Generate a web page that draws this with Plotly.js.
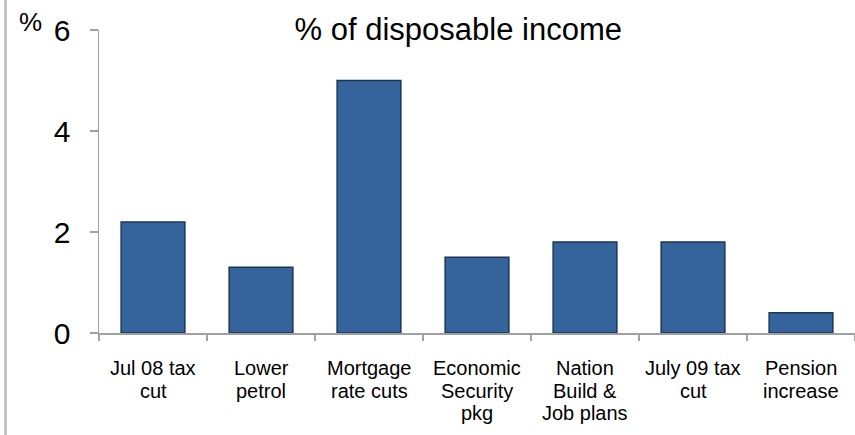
<!DOCTYPE html>
<html>
<head>
<meta charset="utf-8">
<script src="https://cdn.plot.ly/plotly-3.0.1.min.js"></script>
<style>
  html, body { margin: 0; padding: 0; background: #fff; }
  #wrap { position: relative; width: 855px; height: 435px; overflow: hidden; }
  #edge { position: absolute; left: 4px; top: 0; width: 3px; height: 435px; background: #c4c4c4; z-index: 5; }
  #chart { position: absolute; left: 0; top: 0; width: 855px; height: 435px; }
</style>
</head>
<body>
<div id="wrap"><div id="edge"></div><div id="chart"></div></div>
<script>
const categories = [
  "Jul 08 tax<br>cut",
  "Lower<br>petrol",
  "Mortgage<br>rate cuts",
  "Economic<br>Security<br>pkg",
  "Nation<br>Build &<br>Job plans",
  "July 09 tax<br>cut",
  "Pension<br>increase"
];
const values = [2.2, 1.3, 5.0, 1.5, 1.8, 1.8, 0.4];
const yTicks = [0, 2, 4, 6];

const font = "Liberation Sans, Arial, sans-serif";

const trace = {
  type: "bar",
  x: categories,
  y: values,
  width: 0.59,
  marker: { color: "#34649b", line: { color: "#1a3656", width: 1.5 } },
  hoverinfo: "skip"
};

// category labels as line-by-line annotations (tight line spacing like the original)
const labelAnns = [];
categories.forEach(function (c) {
  c.split("<br>").forEach(function (line, i) {
    labelAnns.push({
      text: line, xref: "x", yref: "paper", x: c, y: 0,
      xanchor: "center", yanchor: "middle", yshift: -(35 + i * 22.5),
      showarrow: false, font: { family: font, size: 20, color: "#000" }
    });
  });
});

const layout = {
  width: 855, height: 435,
  margin: { l: 99, r: 0, t: 30, b: 102 },
  paper_bgcolor: "rgba(0,0,0,0)",
  plot_bgcolor: "#fff",
  showlegend: false,
  title: { text: "% of disposable income", font: { family: font, size: 31, color: "#000" },
           x: 0.536, xanchor: "center", y: 0.933, yanchor: "middle", yref: "container" },
  xaxis: {
    type: "category",
    showline: true, linecolor: "#a0a0a0", linewidth: 1.5,
    ticks: "outside", tickson: "boundaries", ticklen: 6, tickcolor: "#a0a0a0", tickwidth: 1.5,
    showticklabels: false,
    showgrid: false, zeroline: false, range: [-0.5, 6.5]
  },
  yaxis: {
    range: [0, 6], tickvals: yTicks, ticktext: yTicks.map(String),
    showline: true, linecolor: "#a0a0a0", linewidth: 1.5,
    ticks: "outside", ticklen: 8, tickcolor: "#a0a0a0", tickwidth: 1.5,
    ticklabelstandoff: 13,
    tickfont: { family: font, size: 30, color: "#000" },
    showgrid: false, zeroline: false
  },
  annotations: [{
    text: "%", xref: "paper", yref: "paper", x: -0.09, y: 1.026,
    xanchor: "center", yanchor: "middle", showarrow: false,
    font: { family: font, size: 26, color: "#000" }
  }].concat(labelAnns)
};

Plotly.newPlot("chart", [trace], layout, { displayModeBar: false, staticPlot: true });
</script>
</body>
</html>
